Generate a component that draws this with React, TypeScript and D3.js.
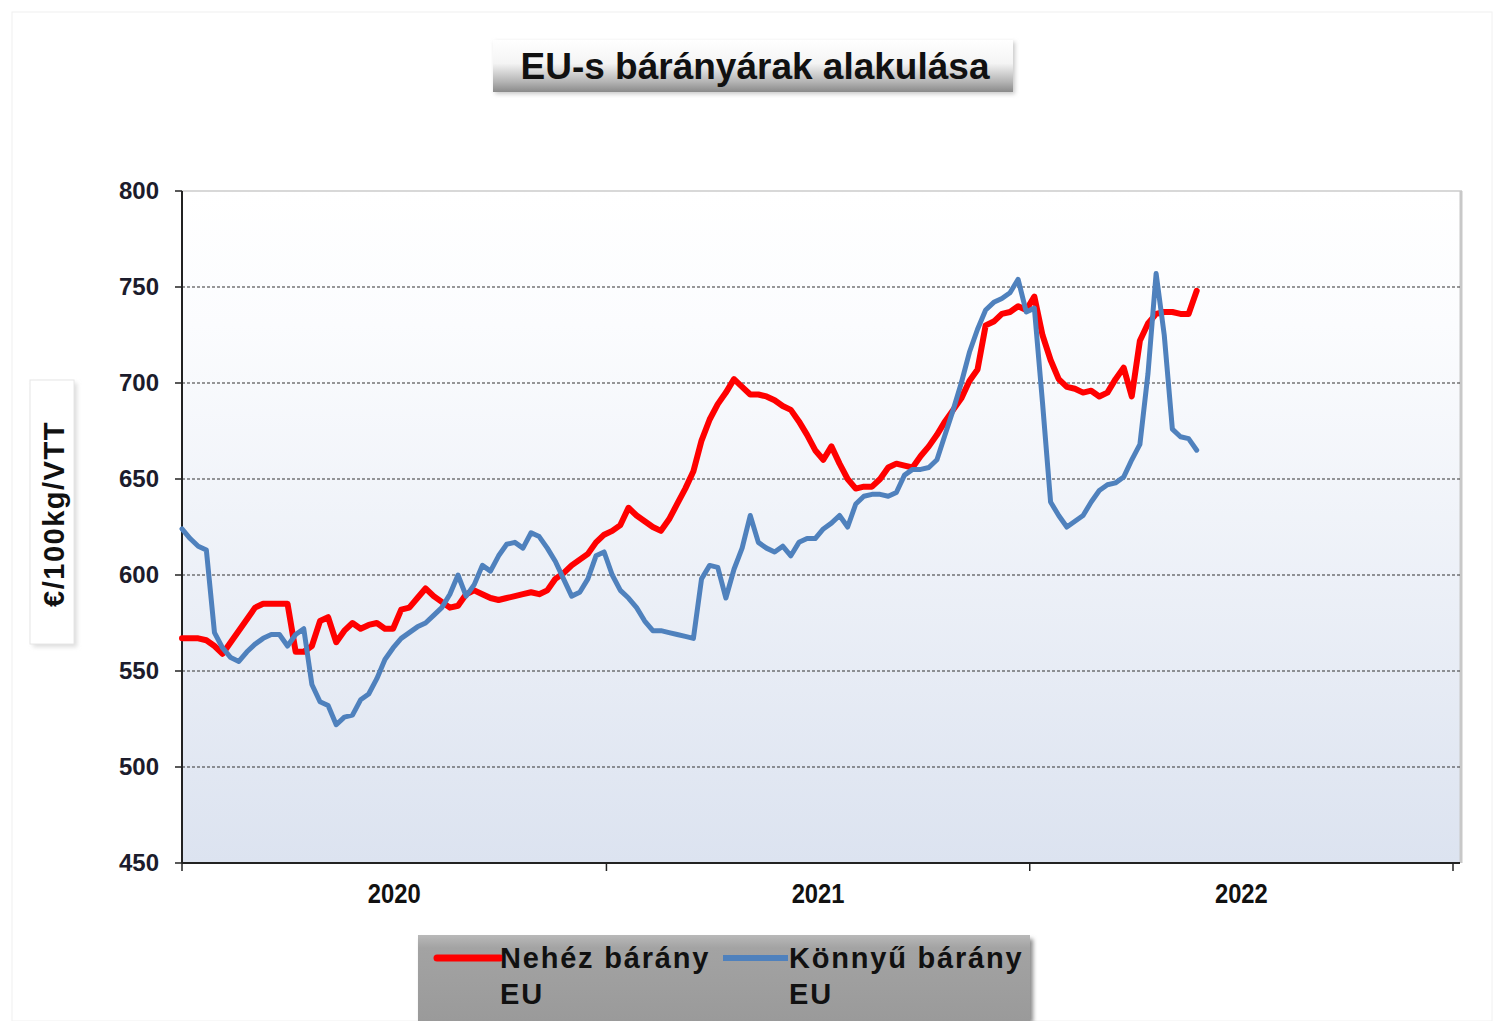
import React from "react";
import * as d3 from "d3";

const startDate = new Date(2020, 0, 1);
const heavyLamb = [
  567, 567, 567, 566, 563, 559, 565, 571, 577, 583, 585, 585, 585, 585, 560, 560, 563, 576, 578, 565,
  571, 575, 572, 574, 575, 572, 572, 582, 583, 588, 593, 589, 586, 583, 584, 590, 592, 590, 588, 587,
  588, 589, 590, 591, 590, 592, 598, 601, 605, 608, 611, 617, 621, 623, 626, 635, 631, 628, 625, 623,
  629, 637, 645, 654, 670, 681, 689, 695, 702, 698, 694, 694, 693, 691, 688, 686, 680, 673, 665, 660,
  667, 658, 650, 645, 646, 646, 650, 656, 658, 657, 656, 662, 667, 673, 680, 686, 692, 701, 707, 730,
  732, 736, 737, 740, 738, 745, 725, 712, 702, 698, 697, 695, 696, 693, 695, 702, 708, 693, 722, 731,
  736, 737, 737, 736, 736, 748,
];
const lightLamb = [
  624, 619, 615, 613, 570, 562, 557, 555, 560, 564, 567, 569, 569, 563, 569, 572, 543, 534, 532, 522,
  526, 527, 535, 538, 546, 556, 562, 567, 570, 573, 575, 579, 583, 590, 600, 589, 595, 605, 602, 610,
  616, 617, 614, 622, 620, 614, 607, 598, 589, 591, 598, 610, 612, 600, 592, 588, 583, 576, 571, 571,
  570, 569, 568, 567, 598, 605, 604, 588, 603, 614, 631, 617, 614, 612, 615, 610, 617, 619, 619, 624,
  627, 631, 625, 637, 641, 642, 642, 641, 643, 652, 655, 655, 656, 660, 673, 686, 700, 716, 728, 738,
  742, 744, 747, 754, 737, 739, 690, 638, 631, 625, 628, 631, 638, 644, 647, 648, 651, 660, 668, 705,
  757, 725, 676, 672, 671, 665,
];
const yTicks = [450, 500, 550, 600, 650, 700, 750, 800];
const yearLabels = ["2020", "2021", "2022"];
const seriesNames = ["Nehéz bárány", "Könnyű bárány"];
const titleText = "EU-s bárányárak alakulása";
const yAxisLabel = "€/100kg/VTT";

const dateAt = (i: number) => d3.timeDay.offset(startDate, i * 7);

export default function App() {
  const left = 182, right = 1453, top = 191, bottom = 863;
  const x = d3.scaleTime().domain([new Date(2020, 0, 1), new Date(2023, 0, 1)]).range([left, right]);
  const y = d3.scaleLinear().domain([450, 800]).range([bottom, top]);
  const yearStarts = [2020, 2021, 2022, 2023].map((yr) => new Date(yr, 0, 1));
  const line = d3
    .line<number>()
    .x((_, i) => x(dateAt(i)))
    .y((d) => y(d))
    .curve(d3.curveLinear);
  const boldFont = "'Liberation Sans', Arial, sans-serif";

  return (
    <svg
      width={1504}
      height={1021}
      style={{ position: "absolute", left: 0, top: 0, background: "#fff" }}
    >
      <defs>
        <linearGradient id="plotBg" x1="0" y1="0" x2="0" y2="1">
          <stop offset="0" stopColor="#ffffff" />
          <stop offset="0.2" stopColor="#fbfcfe" />
          <stop offset="1" stopColor="#dce3f0" />
        </linearGradient>
        <linearGradient id="titleBg" x1="0" y1="0" x2="0" y2="1">
          <stop offset="0" stopColor="#ffffff" />
          <stop offset="0.45" stopColor="#f4f4f4" />
          <stop offset="0.8" stopColor="#b5b5b5" />
          <stop offset="1" stopColor="#8a8a8a" />
        </linearGradient>
        <linearGradient id="legendBg" x1="0" y1="0" x2="0" y2="1">
          <stop offset="0" stopColor="#b9b9b9" />
          <stop offset="0.15" stopColor="#a3a3a3" />
          <stop offset="1" stopColor="#9a9a9a" />
        </linearGradient>
        <filter id="soft" x="-10%" y="-10%" width="120%" height="130%">
          <feGaussianBlur stdDeviation="2" />
        </filter>
      </defs>

      <rect x={12} y={12} width={1480} height={1009} fill="none" stroke="#f0f0f0" strokeWidth={1} />

      {/* Title */}
      <rect x={495} y={42} width={520} height={52} fill="#c8c8c8" filter="url(#soft)" />
      <rect x={493} y={40} width={520} height={52} fill="url(#titleBg)" />
      <text
        x={755}
        y={79}
        textAnchor="middle"
        fontFamily={boldFont}
        fontWeight="bold"
        fontSize={37}
        fill="#111"
      >
        {titleText}
      </text>

      {/* Plot background */}
      <rect x={left} y={top} width={1460 - left} height={bottom - top} fill="url(#plotBg)" />
      <line x1={left} x2={1462} y1={top} y2={top} stroke="#d8d8d8" strokeWidth={2} />
      <line x1={1461} x2={1461} y1={top} y2={bottom} stroke="#c8c8c8" strokeWidth={3} />

      {/* Grid lines */}
      {yTicks
        .filter((t) => t > 450 && t < 800)
        .map((t) => (
          <line
            key={"g" + t}
            x1={left}
            x2={1460}
            y1={y(t)}
            y2={y(t)}
            stroke="#333"
            strokeWidth={1.2}
            strokeDasharray="3,2"
          />
        ))}

      {/* Y axis */}
      <line x1={left} x2={left} y1={top} y2={bottom} stroke="#222" strokeWidth={2} />
      {yTicks.map((t) => (
        <g key={"yt" + t}>
          <line x1={left - 7} x2={left} y1={y(t)} y2={y(t)} stroke="#222" strokeWidth={1.5} />
          <text
            x={159}
            y={y(t) + 8}
            textAnchor="end"
            fontFamily={boldFont}
            fontWeight="bold"
            fontSize={24}
            fill="#1c1c2c"
          >
            {t}
          </text>
        </g>
      ))}

      {/* X axis */}
      <line x1={left} x2={1460} y1={bottom} y2={bottom} stroke="#222" strokeWidth={2} />
      {yearStarts.map((d, i) => (
        <line
          key={"xt" + i}
          x1={x(d)}
          x2={x(d)}
          y1={bottom}
          y2={bottom + 8}
          stroke="#222"
          strokeWidth={1.5}
        />
      ))}
      {yearLabels.map((lab, i) => {
        const cx = (x(yearStarts[i]) + x(yearStarts[i + 1])) / 2;
        return (
          <text
            key={lab}
            x={cx}
            y={903}
            textAnchor="middle"
            fontFamily={boldFont}
            fontWeight="bold"
            fontSize={27}
            fill="#111"
            transform={`translate(${cx},0) scale(0.88,1) translate(${-cx},0)`}
          >
            {lab}
          </text>
        );
      })}

      {/* Y axis label */}
      <rect x={33} y={383} width={44} height={264} fill="#ddd" filter="url(#soft)" />
      <rect x={30} y={380} width={44} height={264} fill="#fff" stroke="#e6e6e6" />
      <text
        transform="translate(64,514) rotate(-90)"
        textAnchor="middle"
        fontFamily={boldFont}
        fontWeight="bold"
        fontSize={29}
        letterSpacing={1.5}
        fill="#111"
      >
        {yAxisLabel}
      </text>

      {/* Lines */}
      <path
        d={line(heavyLamb) || ""}
        fill="none"
        stroke="#ff0000"
        strokeWidth={6}
        strokeLinejoin="round"
        strokeLinecap="round"
      />
      <path
        d={line(lightLamb) || ""}
        fill="none"
        stroke="#4f81bd"
        strokeWidth={5}
        strokeLinejoin="round"
        strokeLinecap="round"
      />

      {/* Legend */}
      <rect x={421} y={939} width={612} height={84} fill="#8a8a8a" filter="url(#soft)" />
      <rect x={418} y={935} width={612} height={86} fill="url(#legendBg)" />
      <line x1={437} x2={500} y1={958} y2={958} stroke="#ff0000" strokeWidth={7} strokeLinecap="round" />
      <line x1={723} x2={788} y1={958} y2={958} stroke="#4f81bd" strokeWidth={6} />
      {seriesNames.map((name, i) => {
        const tx = i === 0 ? 500 : 789;
        return (
          <text
            key={name}
            fontFamily={boldFont}
            fontWeight="bold"
            fontSize={29}
            fill="#111"
            letterSpacing={1.8}
          >
            <tspan x={tx} y={968}>
              {name}
            </tspan>
            <tspan x={tx} y={1004}>
              EU
            </tspan>
          </text>
        );
      })}
    </svg>
  );
}
